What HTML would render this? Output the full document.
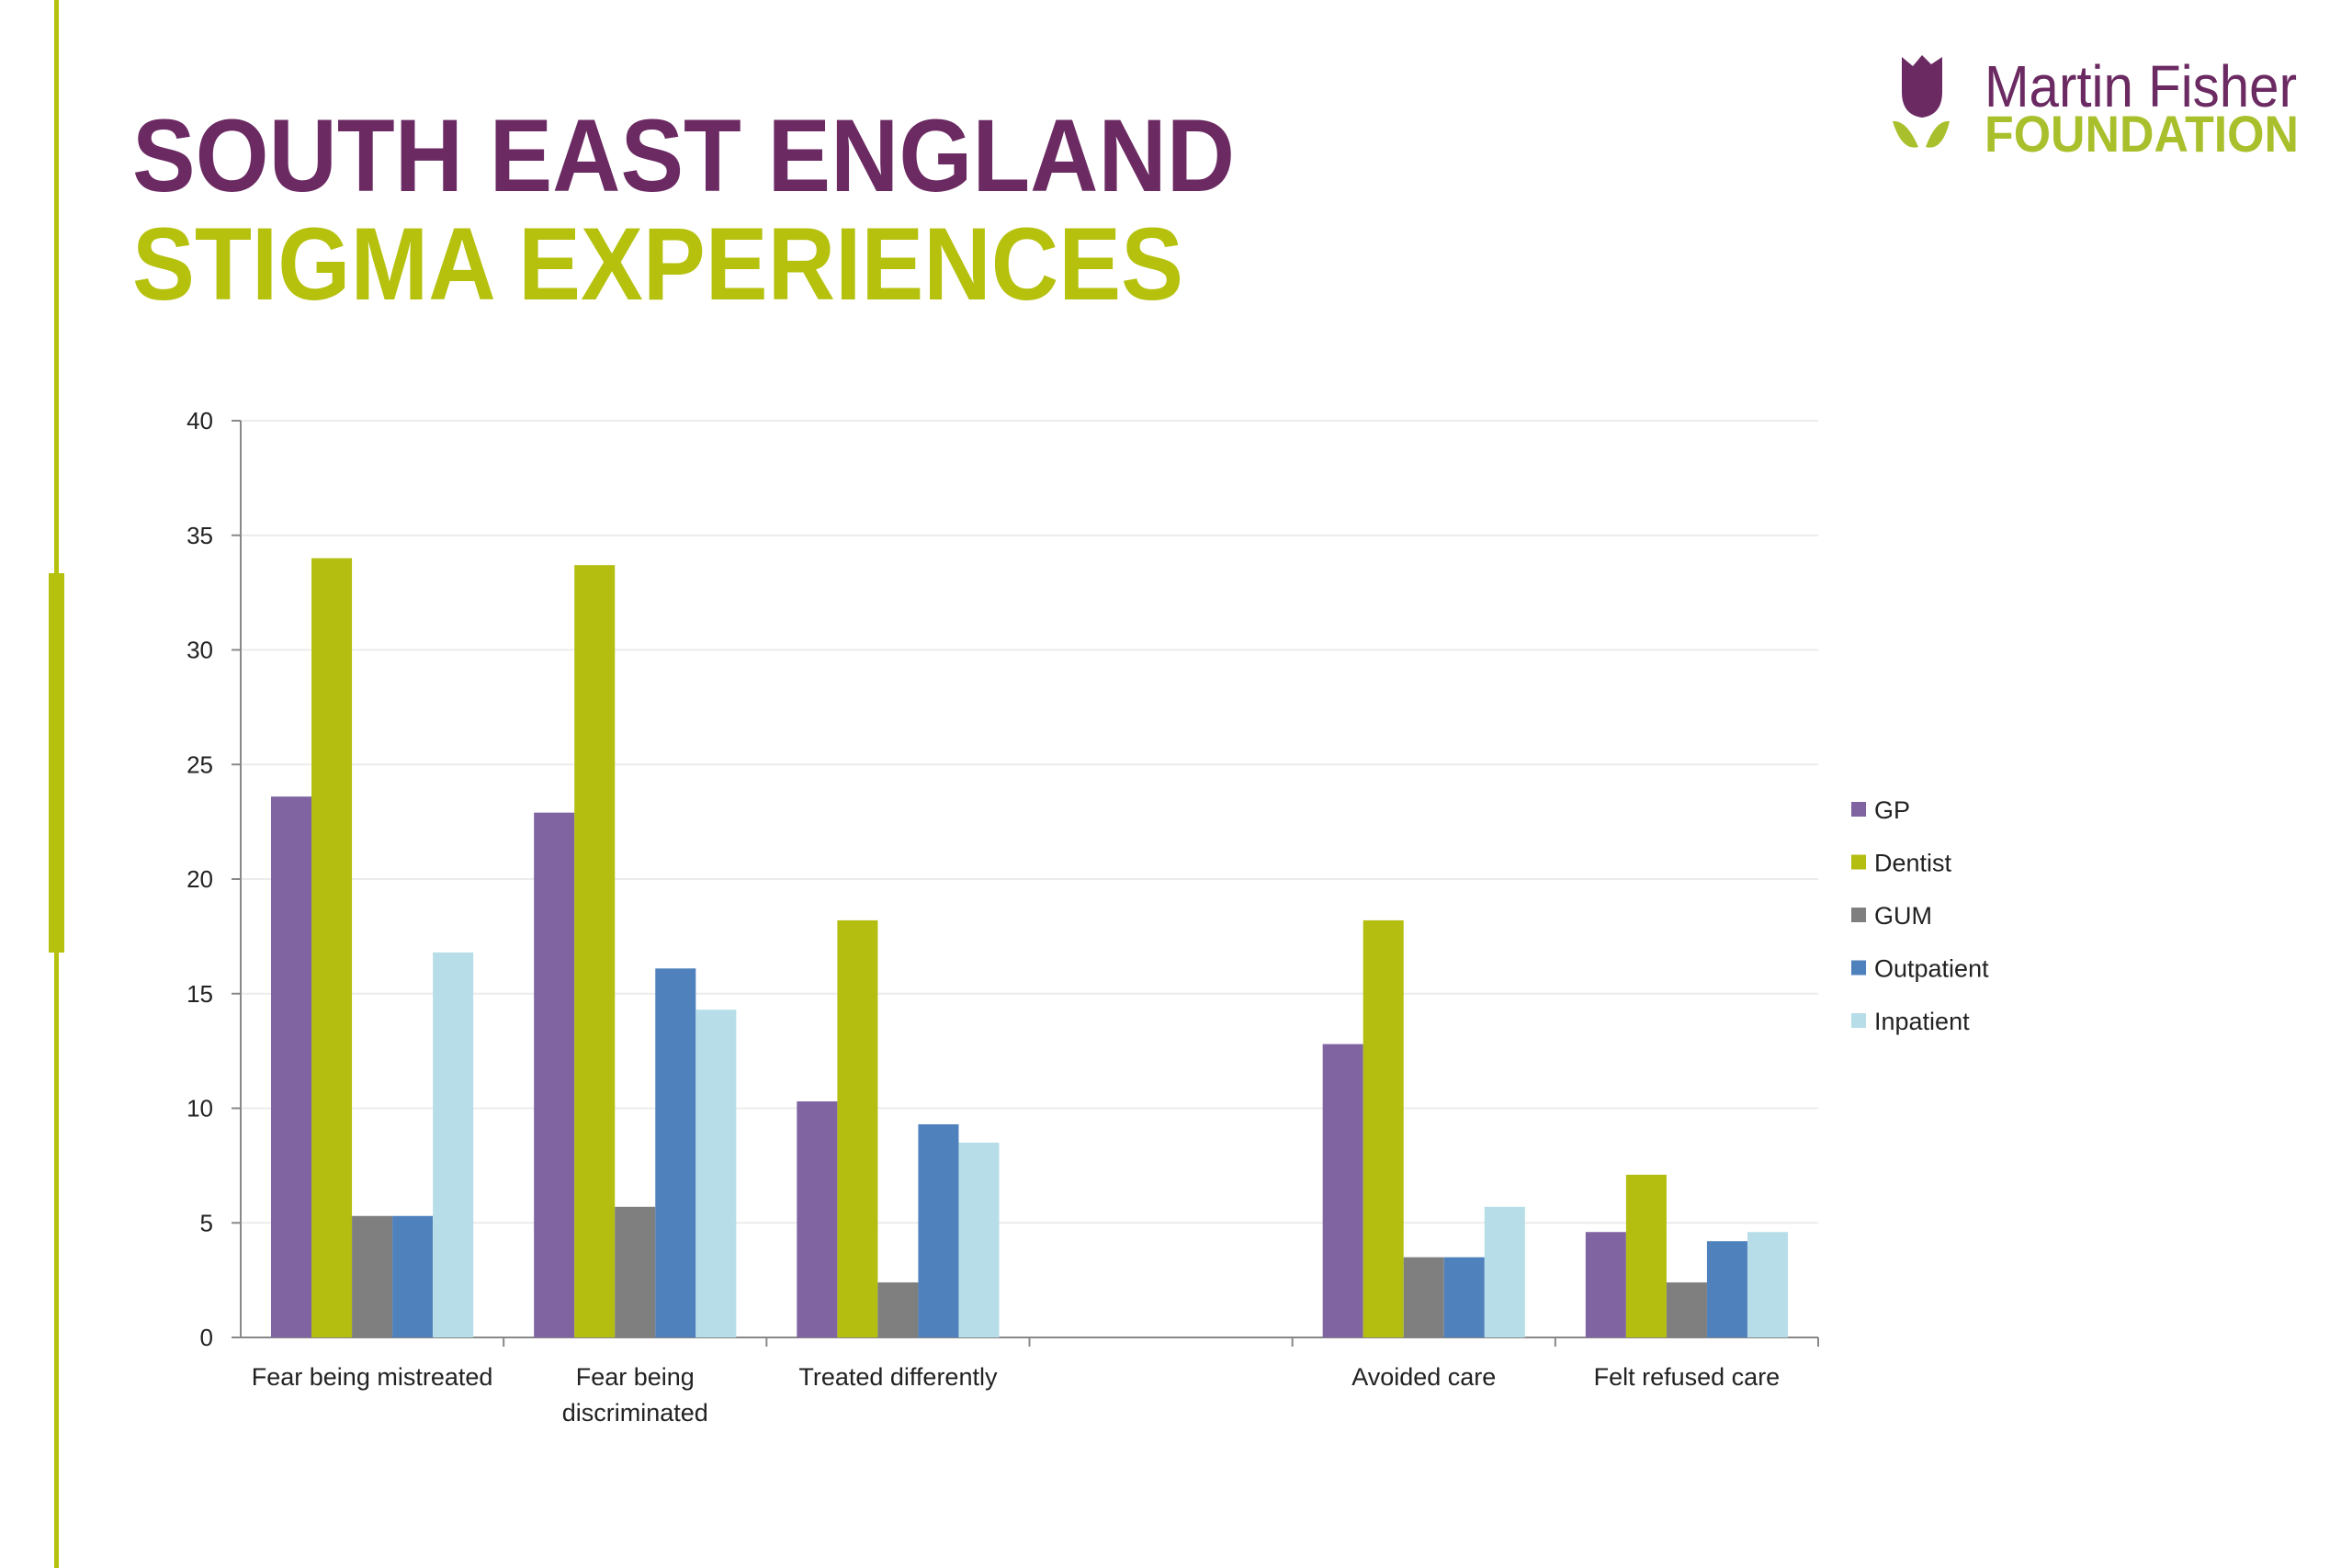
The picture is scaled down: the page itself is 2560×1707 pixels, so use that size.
<!DOCTYPE html>
<html><head><meta charset="utf-8"><style>
html,body{margin:0;padding:0;background:#fff;}
svg{display:block;font-family:"Liberation Sans",sans-serif;}
</style></head><body>
<svg id="root" width="2560" height="1707" viewBox="0 0 2560 1707">
<rect x="59" y="0" width="5" height="1707" fill="#b5c10d"/>
<rect x="53" y="624" width="17" height="413" fill="#b5c10d"/>
<text x="144" y="208" font-size="112" font-weight="bold" fill="#6b2a62" textLength="1200" lengthAdjust="spacingAndGlyphs">SOUTH EAST ENGLAND</text>
<text x="144" y="326" font-size="112" font-weight="bold" fill="#b5c10d" textLength="1144" lengthAdjust="spacingAndGlyphs">STIGMA EXPERIENCES</text>
<g>
<path d="M2070 62 L2082 72 L2092 60 L2102 70 L2114 62 L2114 100 Q2114 125 2092 128 Q2070 125 2070 100 Z" fill="#6b2a62"/>
<path d="M2060 132 Q2075 130 2088 160 Q2070 165 2060 132 Z M2122 132 Q2107 130 2096 160 Q2114 165 2122 132 Z" fill="#a9bf2b"/>
<text x="2160" y="116" font-size="64" fill="#6b2a62" textLength="340" lengthAdjust="spacingAndGlyphs">Martin Fisher</text>
<text x="2160" y="165" font-size="56" font-weight="bold" fill="#a9bf2b" textLength="342" lengthAdjust="spacingAndGlyphs">FOUNDATION</text>
</g>
<g id="chart"></g>
</svg>
<script>
const categories = ["Fear being mistreated|", "Fear being|discriminated", "Treated differently|", "|", "Avoided care|", "Felt refused care|"];
const seriesNames = ["GP", "Dentist", "GUM", "Outpatient", "Inpatient"];
const gpValues = [23.6, 22.9, 10.3, null, 12.8, 4.6];
const dentistValues = [34.0, 33.7, 18.2, null, 18.2, 7.1];
const gumValues = [5.3, 5.7, 2.4, null, 3.5, 2.4];
const outpatientValues = [5.3, 16.1, 9.3, null, 3.5, 4.2];
const inpatientValues = [16.8, 14.3, 8.5, null, 5.7, 4.6];
const yTicks = [0, 5, 10, 15, 20, 25, 30, 35, 40];

const colors = ["#8064a2", "#b3be10", "#7f7f7f", "#4f81bd", "#b7dee8"];
const series = [gpValues, dentistValues, gumValues, outpatientValues, inpatientValues];
const NS = "http://www.w3.org/2000/svg";
const g = document.getElementById("chart");
const X0 = 262, X1 = 1979, Y0 = 1456, Y1 = 458, YMAX = 40;
const slot = (X1 - X0) / categories.length;
const yScale = v => Y0 - (v / YMAX) * (Y0 - Y1);
const xSlot = i => X0 + i * slot;
function mk(tag, attrs) { const e = document.createElementNS(NS, tag); for (const k in attrs) e.setAttribute(k, attrs[k]); g.appendChild(e); return e; }

yTicks.forEach(t => {
  const y = yScale(t);
  if (t > 0) {
    const gl = mk("line", {x1: X0, x2: X1, y1: y, y2: y, stroke: "#ececec", "stroke-width": 2});
    
    
  }
  const tk = mk("line", {x1: X0 - 10, x2: X0, y1: y, y2: y, stroke: "#888", "stroke-width": 2});
  
  
  const lb = mk("text", {x: 232, y: y + 9, "text-anchor": "end", "font-size": 26, fill: "#222"});
  lb.textContent = t;
  
  
});
const ya = mk("line", {x1: X0, x2: X0, y1: Y1, y2: Y0, stroke: "#888", "stroke-width": 2});


const xa = mk("line", {x1: X0, x2: X1, y1: Y0, y2: Y0, stroke: "#888", "stroke-width": 2});



const pad = 33;
const bw = (slot - 2 * pad) / series.length;
categories.forEach((c, i) => {
  const tk = mk("line", {x1: xSlot(i + 1), x2: xSlot(i + 1), y1: Y0, y2: Y0 + 10, stroke: "#888", "stroke-width": 2});
  
  
  series.forEach((s, j) => {
    const v = s[i];
    if (v == null) return;
    const r = mk("rect", {x: xSlot(i) + pad + j * bw, y: yScale(v), width: bw, height: Y0 - yScale(v), fill: colors[j]});
    
    
  });
  c.split("|").forEach((line, k) => {
    if (!line) return;
    const t = mk("text", {x: xSlot(i) + slot / 2, y: 1508 + k * 39, "text-anchor": "middle", "font-size": 27, fill: "#222"});
    t.textContent = line;
    
    
  });
});

seriesNames.forEach((n, j) => {
  const y = 881 + j * 57.5;
  const sq = mk("rect", {x: 2015, y: y - 8, width: 16, height: 16, fill: colors[j]});
  
  
  const t = mk("text", {x: 2040, y: y + 10, "font-size": 27, fill: "#222"});
  t.textContent = n;
  
  
});
</script>
</body></html>
